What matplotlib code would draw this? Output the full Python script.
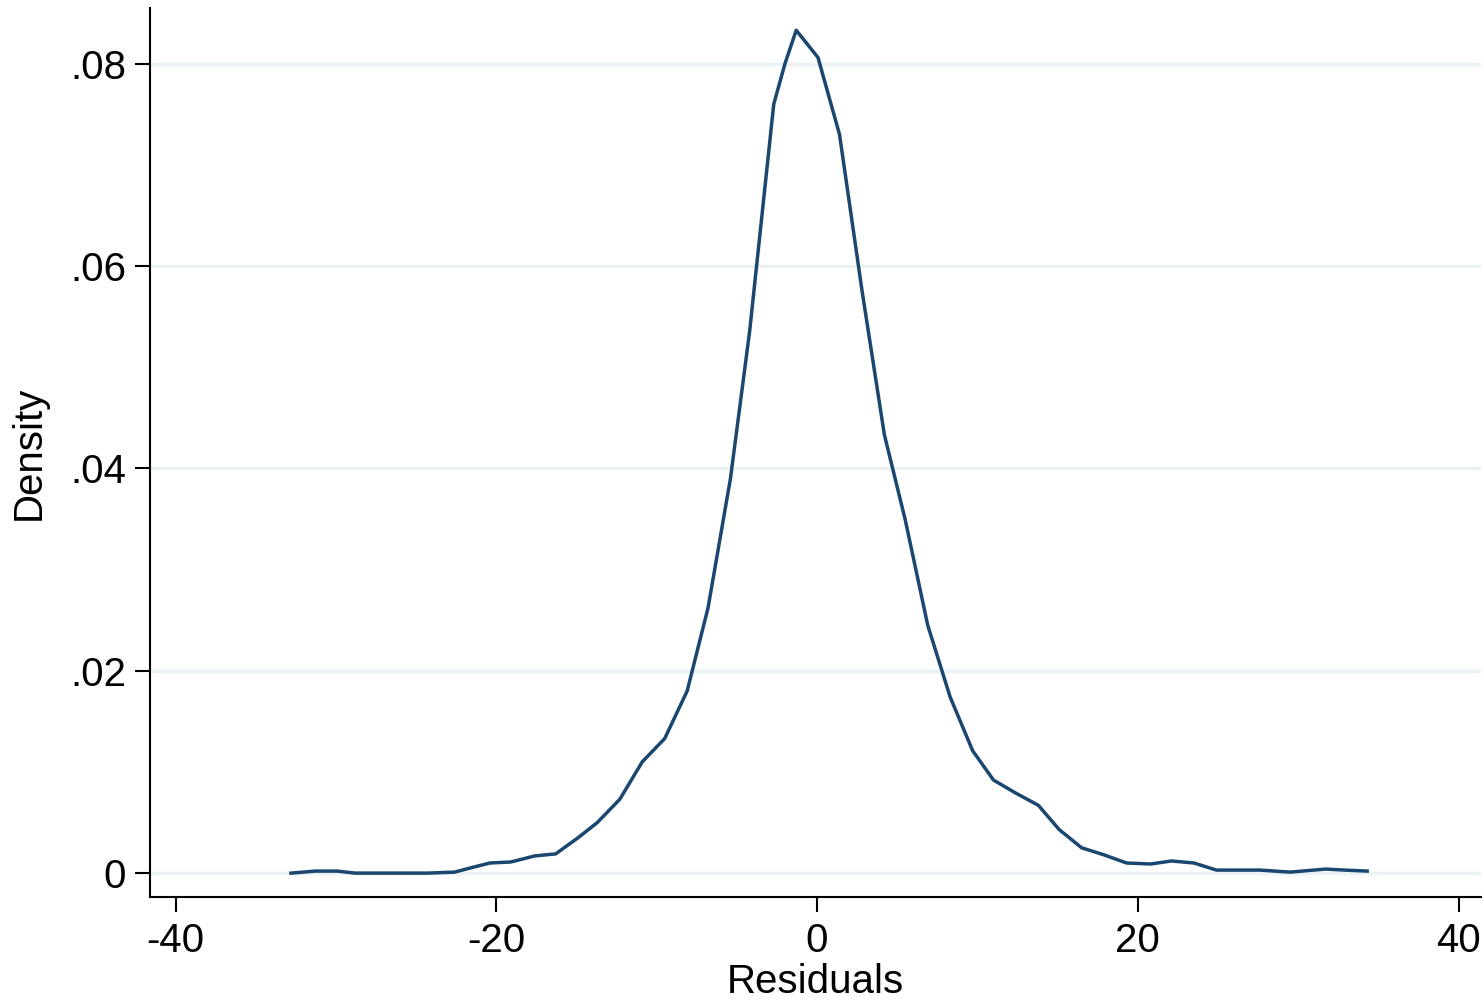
import matplotlib
matplotlib.use("Agg")
import matplotlib.pyplot as plt

# kernel density of residuals
resid = [-32.8, -31.3, -29.9, -28.8, -27.1, -25.7, -24.3, -22.6, -21.4, -20.4,
         -19.1, -17.6, -16.3, -14.9, -13.7, -12.3, -10.9, -9.5, -8.1, -6.8,
         -5.4, -4.2, -2.7, -2.0, -1.3, 0.06, 1.4, 2.8, 4.2, 5.5,
         6.9, 8.3, 9.7, 11.0, 12.4, 13.8, 15.1, 16.5, 17.9, 19.3,
         20.8, 22.1, 23.5, 24.9, 26.3, 27.6, 29.5, 31.7, 32.9, 34.3]
density = [0.0000, 0.0002, 0.0002, 0.0000, 0.0000, 0.0000, 0.0000, 0.0001, 0.0006, 0.0010,
           0.0011, 0.0017, 0.0019, 0.0035, 0.0050, 0.0073, 0.0110, 0.0133, 0.0180, 0.0262,
           0.0390, 0.0536, 0.0760, 0.0800, 0.0833, 0.0806, 0.0730, 0.0576, 0.0433, 0.0349,
           0.0245, 0.0174, 0.0121, 0.0092, 0.0079, 0.0067, 0.0043, 0.0025, 0.0018, 0.0010,
           0.0009, 0.0012, 0.0010, 0.0003, 0.0003, 0.0003, 0.0001, 0.0004, 0.0003, 0.0002]

xticks = [-40, -20, 0, 20, 40]
xlabels = ['-40', '-20', '0', '20', '40']
yticks = [0, 0.02, 0.04, 0.06, 0.08]
ylabels = ['0', '.02', '.04', '.06', '.08']

plt.rcParams['font.family'] = ['Liberation Sans', 'DejaVu Sans']

fig = plt.figure(figsize=(14.84, 9.99), dpi=100)
ax = fig.add_axes([0.101, 0.102, 0.897, 0.890])

for y in yticks:
    ax.axhline(y, color='#eaf2f3', lw=2.5, zorder=1)
ax.plot(resid, density, color='#1a476f', lw=2.5, zorder=3)

ax.set_xlim(-41.6, 41.4)
ax.set_ylim(-0.00237, 0.0855)
ax.set_xticks(xticks)
ax.set_xticklabels(xlabels)
ax.set_yticks(yticks)
ax.set_yticklabels(ylabels)

for s in ['top', 'right']:
    ax.spines[s].set_visible(False)
for s in ['left', 'bottom']:
    ax.spines[s].set_linewidth(1.5)
    ax.spines[s].set_color('black')

ax.tick_params(axis='both', direction='out', length=11, width=1.5, labelsize=29, color='black')
ax.tick_params(axis='x', pad=7)
ax.tick_params(axis='y', pad=6)

ax.set_xlabel('Residuals', fontsize=29, labelpad=2)
ax.set_ylabel('Density', fontsize=29, labelpad=16)

fig.savefig('out.png', dpi=100)
